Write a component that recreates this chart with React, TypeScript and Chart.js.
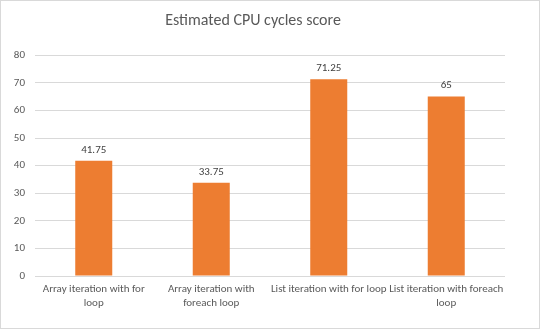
import React, { useEffect, useRef } from "react";
import { Chart, registerables } from "chart.js";

Chart.register(...registerables);

const title = "Estimated CPU cycles score";
const categories: string[][] = [
  ["Array iteration with for", "loop"],
  ["Array iteration with", "foreach loop"],
  ["List iteration with for loop"],
  ["List iteration with foreach", "loop"],
];
const scores = [41.75, 33.75, 71.25, 65];
const yTicks = [0, 10, 20, 30, 40, 50, 60, 70, 80];

const FONT = "Carlito, Lato, 'Liberation Sans', sans-serif";

const labelPlugin = {
  id: "barLabels",
  afterDatasetsDraw(chart: any) {
    const ctx = chart.ctx;
    const meta = chart.getDatasetMeta(0);
    ctx.save();
    ctx.fillStyle = "#404040";
    ctx.font = `11px ${FONT}`;
    ctx.textAlign = "center";
    ctx.textBaseline = "middle";
    meta.data.forEach((bar: any, i: number) => {
      ctx.fillText(String(scores[i]), bar.x, bar.y - 11);
    });
    ctx.restore();
  },
};

export default function App() {
  const ref = useRef<HTMLCanvasElement | null>(null);
  useEffect(() => {
    document.body.style.margin = "0";
    if (!ref.current) return;
    const chart = new Chart(ref.current, {
      type: "bar",
      data: {
        labels: categories,
        datasets: [
          {
            data: scores,
            backgroundColor: "#ED7D31",
            barPercentage: 0.315,
            categoryPercentage: 1,
          },
        ],
      },
      options: {
        animation: false,
        responsive: false,
        layout: { padding: { left: 0, right: 34, top: 0, bottom: 0 } },
        plugins: {
          legend: { display: false },
          tooltip: { enabled: false },
          title: {
            display: true,
            text: title,
            color: "#595959",
            font: { size: 16, family: FONT, weight: "normal" },
            padding: { top: 10, bottom: 25 },
          },
        },
        scales: {
          x: {
            grid: { display: false, drawTicks: false },
            border: { display: false },
            ticks: {
              color: "#595959",
              font: { size: 11, family: FONT },
              padding: 7,
              maxRotation: 0,
              autoSkip: false,
            },
            afterFit(scale: any) {
              scale.height = 52;
            },
          },
          y: {
            min: 0,
            max: 80,
            afterBuildTicks(scale: any) {
              scale.ticks = yTicks.map((v) => ({ value: v }));
            },
            grid: { color: "#d9d9d9", drawTicks: false },
            border: { display: false },
            ticks: {
              color: "#595959",
              font: { size: 11, family: FONT },
              padding: 10,
            },
            afterFit(scale: any) {
              scale.width = 34;
            },
          },
        },
      },
      plugins: [labelPlugin],
    });
    return () => chart.destroy();
  }, []);
  return (
    <div
      style={{
        position: "relative",
        width: 540,
        height: 329,
        boxSizing: "border-box",
        border: "1px solid #d9d9d9",
        background: "#fff",
      }}
    >
      <canvas
        ref={ref}
        width={538}
        height={327}
        style={{ display: "block", width: 538, height: 327 }}
      />
    </div>
  );
}
